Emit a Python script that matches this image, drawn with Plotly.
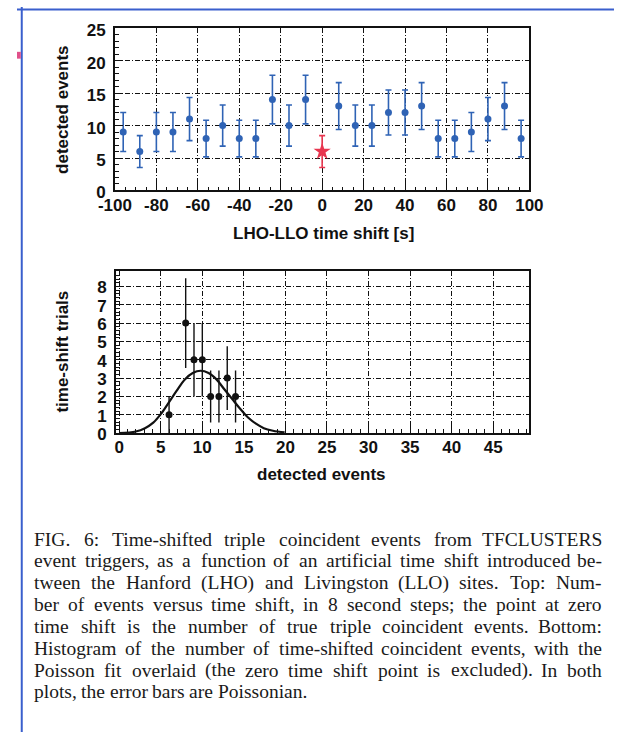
import plotly.graph_objects as go
import numpy as np

# ---- top panel: detected events vs LHO-LLO time shift ----
shift_bg = [-96, -88, -80, -72, -64, -56, -48, -40, -32, -24, -16, -8,
            8, 16, 24, 32, 40, 48, 56, 64, 72, 80, 88, 96]
events_bg = [9, 6, 9, 9, 11, 8, 10, 8, 8, 14, 10, 14,
             13, 10, 10, 12, 12, 13, 8, 8, 9, 11, 13, 8]
shift_true = [0]
events_true = [6]
shift_ticks = [-100, -80, -60, -40, -20, 0, 20, 40, 60, 80, 100]
shift_ticktext = ["-100", "-80", "-60", "-40", "-20", "0", "20", "40", "60", "80", "100"]

# ---- bottom panel: histogram of time-shifted counts + Poisson fit ----
hist_events = [6, 8, 9, 10, 11, 12, 13, 14]
hist_trials = [1, 6, 4, 4, 2, 2, 3, 2]
fit_x = [0, 2, 3.1, 4.1, 5.05, 6, 6.9, 7.9, 8.85, 9.8, 10.75, 11.7, 12.65,
         13.6, 14.55, 15.5, 16.5, 17.4, 18.5, 19.9]
fit_y = [0, 0.09, 0.27, 0.57, 1.06, 1.69, 2.3, 2.93, 3.28, 3.40, 3.28, 2.93,
         2.39, 1.86, 1.33, 0.85, 0.5, 0.27, 0.13, 0.04]

caption_lines = [
    "FIG. 6: Time-shifted triple coincident events from TFCLUSTERS",
    "event triggers, as a function of an artificial time shift introduced be-",
    "tween the Hanford (LHO) and Livingston (LLO) sites. Top: Num-",
    "ber of events versus time shift, in 8 second steps; the point at zero",
    "time shift is the number of true triple coincident events. Bottom:",
    "Histogram of the number of time-shifted coincident events, with the",
    "Poisson fit overlaid (the zero time shift point is excluded). In both",
    "plots, the error bars are Poissonian.",
]

W, H = 628, 744
BLUE = "#2f63b5"
RED = "#e8364f"
SANS = "Liberation Sans"
SERIF = "Liberation Serif"


def px(x):
    return x / W


def py(y):
    return 1 - y / H


fig = go.Figure()

# top panel points
fig.add_trace(go.Scatter(
    x=shift_bg, y=events_bg, mode="markers",
    marker=dict(color=BLUE, size=7),
    error_y=dict(type="data", array=np.sqrt(events_bg), color=BLUE,
                 thickness=1.6, width=3),
    xaxis="x", yaxis="y"))
fig.add_trace(go.Scatter(
    x=shift_true, y=events_true, mode="markers",
    marker=dict(color=RED, size=13, symbol="star"),
    error_y=dict(type="data", array=np.sqrt(events_true), color=RED,
                 thickness=1.6, width=3),
    xaxis="x", yaxis="y"))

# bottom panel histogram points and fit
fig.add_trace(go.Scatter(
    x=fit_x, y=fit_y, mode="lines", line=dict(color="#111", width=2.2, shape="spline"),
    xaxis="x2", yaxis="y2"))
fig.add_trace(go.Scatter(
    x=hist_events, y=hist_trials, mode="markers",
    marker=dict(color="#111", size=7),
    error_y=dict(type="data", array=np.sqrt(hist_trials), color="#111",
                 thickness=1.4, width=0),
    xaxis="x2", yaxis="y2"))

tickfont = dict(family=SANS, size=17, color="#111", weight="bold")
grid = dict(showgrid=True, gridcolor="#111", gridwidth=1, griddash="5px,2px,1px,2px")
frame = dict(showline=True, linecolor="#111", linewidth=1.5, mirror=True,
             zeroline=False, ticks="inside", tickcolor="#111")

fig.update_layout(
    width=W, height=H, margin=dict(l=0, r=0, t=0, b=0),
    paper_bgcolor="white", plot_bgcolor="white", showlegend=False,
    xaxis=dict(domain=[px(103), px(539)], anchor="y", range=[-100, 100],
               tickvals=shift_ticks, ticktext=shift_ticktext, ticklen=8,
               tickfont=tickfont, ticklabelstandoff=-2,
               minor=dict(ticks="inside", dtick=5, ticklen=4, tickcolor="#111"),
               **grid, **frame),
    yaxis=dict(domain=[py(188.3), py(21.7)], anchor="x", range=[0, 25],
               dtick=5, ticklen=8, tickfont=tickfont, ticklabelstandoff=4,
               ticklabelshift=2,
               minor=dict(ticks="inside", dtick=1, ticklen=4, tickcolor="#111"),
               **grid, **frame),
    xaxis2=dict(domain=[px(104), px(539)], anchor="y2", range=[-0.4, 49.35],
                dtick=5, tick0=0, ticklen=8, tickfont=tickfont, ticklabelstandoff=-2,
                minor=dict(ticks="inside", dtick=1, ticklen=4, tickcolor="#111"),
                **grid, **frame),
    yaxis2=dict(domain=[py(437.3), py(270.7)], anchor="x2", range=[0, 8.85],
                dtick=1, ticklen=8, tickfont=tickfont, ticklabelstandoff=4,
                ticklabelshift=1,
                minor=dict(ticks="inside", dtick=0.2, ticklen=4, tickcolor="#111"),
                **grid, **frame),
)

title_font = dict(family=SANS, size=17, color="#111", weight="bold")
annotations = [
    dict(text="detected events", x=px(48), y=py(105), textangle=-90),
    dict(text="LHO-LLO time shift [s]", x=px(322), y=py(232)),
    dict(text="time-shift trials", x=px(48), y=py(354), textangle=-90),
    dict(text="detected events", x=px(320), y=py(480)),
]
for a in annotations:
    fig.add_annotation(xref="paper", yref="paper", showarrow=False,
                       xanchor="center", yanchor="middle", font=title_font, **a)

# ---- caption, fully justified with Times-compatible advance widths ----
TIMES = {' ': 250, 'a': 444, 'b': 500, 'c': 444, 'd': 500, 'e': 444, 'f': 333,
         'g': 500, 'h': 500, 'i': 278, 'j': 278, 'k': 500, 'l': 278, 'm': 778,
         'n': 500, 'o': 500, 'p': 500, 'q': 500, 'r': 333, 's': 389, 't': 278,
         'u': 500, 'v': 500, 'w': 722, 'x': 500, 'y': 500, 'z': 444,
         'A': 722, 'B': 667, 'C': 667, 'D': 722, 'E': 611, 'F': 556, 'G': 722,
         'H': 722, 'I': 333, 'J': 389, 'K': 722, 'L': 611, 'M': 889, 'N': 722,
         'O': 722, 'P': 556, 'Q': 722, 'R': 667, 'S': 556, 'T': 611, 'U': 722,
         'V': 722, 'W': 944, 'X': 722, 'Y': 722, 'Z': 611, '.': 250, ',': 250,
         ':': 278, ';': 278, '(': 333, ')': 333, '-': 333}


def word_width(word, size):
    # small allowance for rendering/hinting slack
    return sum(TIMES.get(ch, 500) for ch in word) * size / 1000 * 1.02


cap_left, cap_right = 18, 615
cap_size = 19.5
cap_font = dict(family=SERIF, size=cap_size, color="#1a1a1a")
line_y0, line_step = 546, 22.4
for i, line in enumerate(caption_lines):
    y = py(line_y0 + i * line_step)
    words = line.split(" ")
    last = i == len(caption_lines) - 1
    widths = [word_width(w, cap_size) for w in words]
    if last:
        gap = 0.3 * cap_size
    else:
        gap = (cap_right - cap_left - sum(widths)) / (len(words) - 1)
    x = cap_left
    for j, (w, ww) in enumerate(zip(words, widths)):
        if not last and j == len(words) - 1:
            fig.add_annotation(text=w, x=px(cap_right), y=y, xref="paper", yref="paper",
                               xanchor="right", yanchor="middle", showarrow=False,
                               borderpad=0, borderwidth=0, font=cap_font)
        else:
            fig.add_annotation(text=w, x=px(x), y=y, xref="paper", yref="paper",
                               xanchor="left", yanchor="middle", showarrow=False,
                               borderpad=0, borderwidth=0, font=cap_font)
        x += ww + gap

# page frame lines
fig.add_shape(type="line", xref="paper", yref="paper", x0=0, x1=1, y0=py(2.5), y1=py(2.5),
              line=dict(color="#3a5fcd", width=2))
fig.add_shape(type="line", xref="paper", yref="paper", x0=px(5), x1=px(5), y0=0, y1=1,
              line=dict(color="#3a5fcd", width=2))
fig.add_shape(type="rect", xref="paper", yref="paper", x0=0, x1=px(4), y0=py(53), y1=py(46),
              line=dict(width=0), fillcolor="#e0508a")

fig.write_html(
    "out.html",
    post_script="document.body.style.margin='0';document.body.style.overflow='hidden';",
)
